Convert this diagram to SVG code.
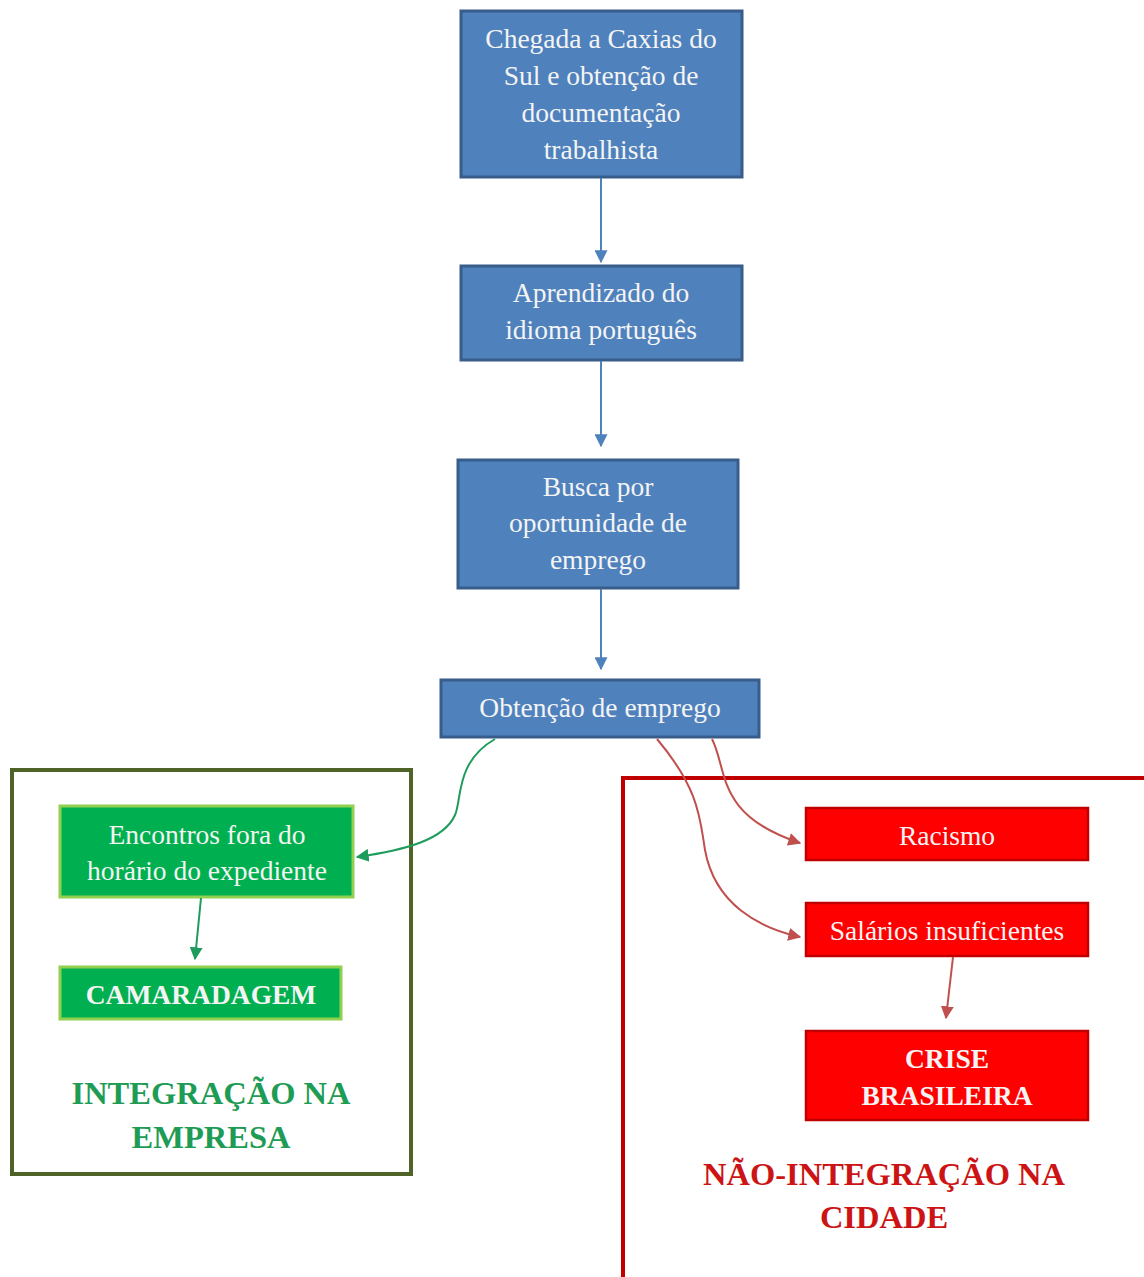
<svg xmlns="http://www.w3.org/2000/svg" width="1144" height="1277" viewBox="0 0 1144 1277">
<defs>
<style>
text{font-family:"Liberation Serif","Times New Roman",serif;text-anchor:middle;}
.t{font-size:27.5px;fill:#F4F4F4;}
.tb{font-size:27.5px;fill:#F4F4F4;font-weight:bold;}
.blue{fill:#4F81BD;stroke:#385D8A;stroke-width:3;}
.green{fill:#00B050;stroke:#92D050;stroke-width:3;}
.red{fill:#FF0000;stroke:#C00000;stroke-width:2.5;}
.cb{fill:none;stroke:#4F81BD;stroke-width:2;}
.cg{fill:none;stroke:#1E9C5C;stroke-width:2;}
.cr{fill:none;stroke:#C0504D;stroke-width:2;}
.hg{font-size:32.5px;font-weight:bold;fill:#1E9C55;}
.hr{font-size:32.5px;font-weight:bold;fill:#CC1414;}
</style>
<marker id="ab" viewBox="0 0 10 10" refX="9" refY="5" markerWidth="13" markerHeight="13" markerUnits="userSpaceOnUse" orient="auto"><path d="M0,0 L10,5 L0,10 z" fill="#4F81BD"/></marker>
<marker id="ag" viewBox="0 0 10 10" refX="9" refY="5" markerWidth="13" markerHeight="13" markerUnits="userSpaceOnUse" orient="auto"><path d="M0,0 L10,5 L0,10 z" fill="#1E9C5C"/></marker>
<marker id="ar" viewBox="0 0 10 10" refX="9" refY="5" markerWidth="13" markerHeight="13" markerUnits="userSpaceOnUse" orient="auto"><path d="M0,0 L10,5 L0,10 z" fill="#C0504D"/></marker>
</defs>
<rect width="1144" height="1277" fill="#FFFFFF"/>

<g id="frame-empresa">
<rect x="12" y="770" width="399" height="404" fill="none" stroke="#4F6228" stroke-width="4"/>
<text class="hg" x="211" y="1104">INTEGRAÇÃO NA</text>
<text class="hg" x="211" y="1148">EMPRESA</text>
</g>
<g id="frame-cidade">
<rect x="623" y="778" width="540" height="520" fill="none" stroke="#C00000" stroke-width="4"/>
<text class="hr" x="884" y="1185">NÃO-INTEGRAÇÃO NA</text>
<text class="hr" x="884" y="1228">CIDADE</text>
</g>

<g id="n1"><rect class="blue" x="461" y="11" width="281" height="166"/>
<text class="t" x="601" y="48">Chegada a Caxias do</text>
<text class="t" x="601" y="85">Sul e obtenção de</text>
<text class="t" x="601" y="122">documentação</text>
<text class="t" x="601" y="159">trabalhista</text></g>

<g id="n2"><rect class="blue" x="461" y="266" width="281" height="94"/>
<text class="t" x="601" y="302">Aprendizado do</text>
<text class="t" x="601" y="339">idioma português</text></g>

<g id="n3"><rect class="blue" x="458" y="460" width="280" height="128"/>
<text class="t" x="598" y="496">Busca por</text>
<text class="t" x="598" y="532">oportunidade de</text>
<text class="t" x="598" y="569">emprego</text></g>

<g id="n4"><rect class="blue" x="441" y="680" width="318" height="57"/>
<text class="t" x="600" y="717">Obtenção de emprego</text></g>

<g id="n5"><rect class="green" x="60" y="806" width="293" height="91"/>
<text class="t" x="207" y="844">Encontros fora do</text>
<text class="t" x="207" y="880">horário do expediente</text></g>

<g id="n6"><rect class="green" x="60" y="967" width="281" height="52"/>
<text class="tb" x="201" y="1004">CAMARADAGEM</text></g>

<g id="n7"><rect class="red" x="806" y="808" width="282" height="52"/>
<text class="t" x="947" y="845">Racismo</text></g>

<g id="n8"><rect class="red" x="806" y="903" width="282" height="53"/>
<text class="t" x="947" y="940">Salários insuficientes</text></g>

<g id="n9"><rect class="red" x="806" y="1031" width="282" height="89"/>
<text class="tb" x="947" y="1068">CRISE</text>
<text class="tb" x="947" y="1105">BRASILEIRA</text></g>

<g id="connectors">
<path class="cb" d="M601,178 L601,262" marker-end="url(#ab)"/>
<path class="cb" d="M601,361 L601,446" marker-end="url(#ab)"/>
<path class="cb" d="M601,589 L601,669" marker-end="url(#ab)"/>
<path class="cg" d="M495,739 C455,762 462,800 455,815 C444,840 405,850 357,857" marker-end="url(#ag)"/>
<path class="cg" d="M201,898 L195,959" marker-end="url(#ag)"/>
<path class="cr" d="M712,739 C728,770 715,815 800,843" marker-end="url(#ar)"/>
<path class="cr" d="M657,739 C700,790 700,820 705,850 C715,905 760,928 800,937" marker-end="url(#ar)"/>
<path class="cr" d="M953,957 L946,1018" marker-end="url(#ar)"/>
</g>
</svg>
